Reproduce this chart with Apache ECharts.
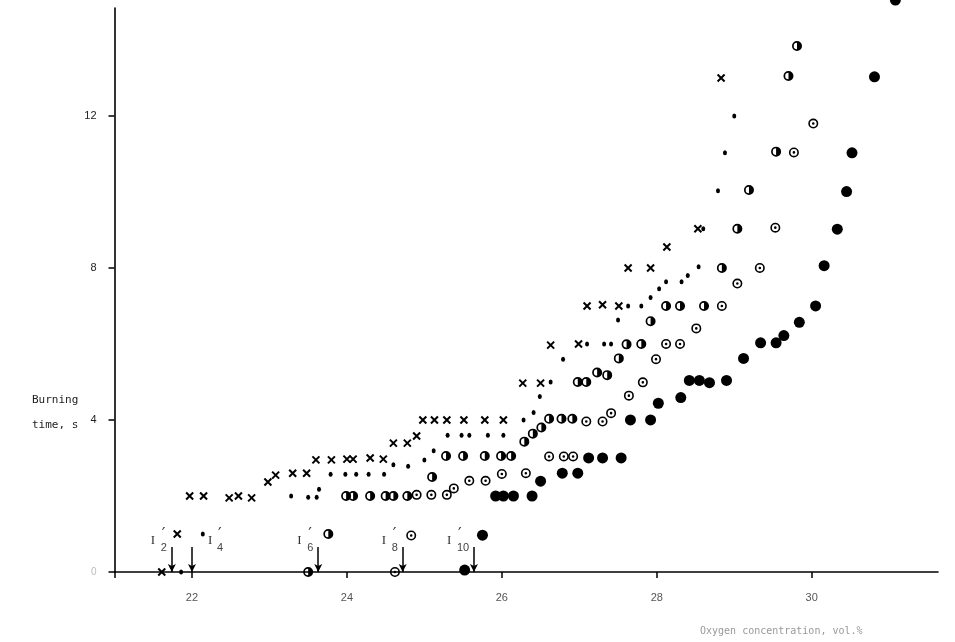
<!DOCTYPE html>
<html>
<head>
<meta charset="utf-8">
<script src="https://cdn.jsdelivr.net/npm/echarts@6/dist/echarts.min.js"></script>
<style>html,body{margin:0;padding:0;background:#fff}#c{width:955px;height:642px}</style>
</head>
<body>
<div id="c"></div>
<script>
// ---- data (oxygen concentration vol.%, burning time s) ----
const crosses = [[21.61,0],[21.81,1.0],[21.97,2.0],[22.15,2.0],[22.48,1.95],[22.6,2.0],[22.77,1.95],[22.98,2.37],[23.08,2.55],[23.3,2.6],[23.48,2.6],[23.6,2.95],[23.8,2.95],[24.0,2.97],[24.08,2.97],[24.3,3.0],[24.47,2.97],[24.6,3.39],[24.78,3.39],[24.9,3.58],[24.98,4.0],[25.13,4.0],[25.29,4.0],[25.51,4.0],[25.78,4.0],[26.02,4.0],[26.27,4.97],[26.5,4.97],[26.63,5.97],[26.99,6.0],[27.1,7.0],[27.3,7.03],[27.51,7.0],[27.63,8.0],[27.92,8.0],[28.13,8.55],[28.53,9.03],[28.83,13.0]];
const dots = [[21.86,0],[22.14,1.0],[23.28,2.0],[23.5,1.97],[23.61,1.97],[23.64,2.18],[23.79,2.57],[23.98,2.57],[24.12,2.57],[24.28,2.57],[24.48,2.57],[24.6,2.82],[24.79,2.78],[25.0,2.95],[25.12,3.19],[25.3,3.6],[25.48,3.6],[25.58,3.6],[25.82,3.6],[26.02,3.6],[26.28,4.0],[26.41,4.2],[26.49,4.62],[26.63,5.0],[26.79,5.6],[27.1,6.0],[27.32,6.0],[27.41,6.0],[27.5,6.63],[27.63,7.0],[27.8,7.0],[27.92,7.22],[28.03,7.45],[28.12,7.64],[28.32,7.64],[28.4,7.8],[28.54,8.03],[28.6,9.03],[28.79,10.03],[28.88,11.03],[29.0,12.0]];
const halfFilled = [[23.5,0],[23.76,1.0],[23.99,2.0],[24.08,2.0],[24.3,2.0],[24.5,2.0],[24.6,2.0],[24.78,2.0],[25.1,2.5],[25.28,3.05],[25.5,3.05],[25.78,3.05],[25.99,3.05],[26.12,3.05],[26.29,3.43],[26.4,3.64],[26.51,3.8],[26.61,4.03],[26.77,4.03],[26.91,4.03],[26.98,5.0],[27.09,5.0],[27.23,5.25],[27.36,5.18],[27.51,5.62],[27.61,5.99],[27.8,6.0],[27.92,6.6],[28.12,7.0],[28.3,7.0],[28.61,7.0],[28.84,8.0],[29.04,9.03],[29.19,10.05],[29.54,11.06],[29.7,13.05],[29.81,13.84]];
const dotted = [[24.62,0],[24.83,0.96],[24.9,2.03],[25.09,2.03],[25.29,2.03],[25.38,2.2],[25.58,2.4],[25.79,2.4],[26.0,2.58],[26.31,2.6],[26.61,3.04],[26.8,3.04],[26.92,3.04],[27.09,3.96],[27.3,3.96],[27.41,4.18],[27.64,4.64],[27.82,4.99],[27.99,5.6],[28.12,6.0],[28.3,6.0],[28.51,6.41],[28.84,7.0],[29.04,7.59],[29.33,8.0],[29.53,9.06],[29.77,11.04],[30.02,11.8]];
const filled = [[25.52,0.05],[25.75,0.97],[25.92,2.0],[26.02,2.0],[26.15,2.0],[26.39,2.0],[26.5,2.39],[26.78,2.6],[26.98,2.6],[27.12,3.0],[27.3,3.0],[27.54,3.0],[27.66,4.0],[27.92,4.0],[28.02,4.44],[28.31,4.59],[28.42,5.04],[28.55,5.04],[28.68,4.98],[28.9,5.04],[29.12,5.62],[29.34,6.03],[29.54,6.03],[29.64,6.22],[29.84,6.57],[30.05,7.0],[30.16,8.06],[30.33,9.02],[30.45,10.01],[30.52,11.03],[30.81,13.03],[31.08,15.05]];
// critical points I'n marked by arrows on the x axis
const annotX = [21.74, 22.0, 23.63, 24.72, 25.64];
const annotSub = ['2', '4', '6', '8', '10'];
const xTickLabels = [22, 24, 26, 28, 30];
const yTickLabels = [0, 4, 8, 12];

// ---- layout / style ----
const annotSide = [-1, 1, -1, -1, -1];
const crossPath = 'path://M0,0L10,10M10,0L0,10';
const halfPath = 'path://M50,0A50,50,0,1,1,50,100A50,50,0,1,1,50,0ZM50,17A33,33,0,0,0,50,83Z';
const dottedPath = 'path://M50,0A50,50,0,1,1,50,100A50,50,0,1,1,50,0ZM50,16A34,34,0,1,0,50,84A34,34,0,1,0,50,16ZM50,37A13,13,0,1,1,50,63A13,13,0,1,1,50,37Z';

const chart = echarts.init(document.getElementById('c'), null, {renderer: 'canvas'});
const base = {type: 'scatter', clip: false, silent: true, animation: false};
const option = {
  animation: false,
  backgroundColor: '#fff',
  grid: {left: 114.5, right: 17, top: 8, bottom: 70},
  xAxis: {
    type: 'value', min: 21, max: 31.63,
    axisLine: {onZero: false, lineStyle: {color: '#000', width: 1.6}},
    axisTick: {customValues: [21].concat(xTickLabels), length: 6, lineStyle: {color: '#000', width: 1.5}},
    axisLabel: {customValues: xTickLabels, margin: 20, color: '#555', fontSize: 11, fontFamily: 'Liberation Sans'},
    splitLine: {show: false}
  },
  yAxis: {
    type: 'value', min: 0, max: 14.84,
    axisLine: {onZero: false, lineStyle: {color: '#000', width: 1.6}},
    axisTick: {customValues: yTickLabels, length: 6, lineStyle: {color: '#000', width: 1.5}},
    axisLabel: {customValues: yTickLabels, margin: 18, color: '#222', fontSize: 11, fontFamily: 'Liberation Sans',
      formatter: v => v === 0 ? '{f|0}' : String(v), rich: {f: {color: '#bbb', fontSize: 10}}},
    splitLine: {show: false}
  },
  series: [
    Object.assign({}, base, {name: 'x', data: crosses, symbol: crossPath, symbolSize: 7,
      itemStyle: {color: '#000', borderColor: '#000', borderWidth: 2, opacity: 1}}),
    Object.assign({}, base, {name: 'dot', data: dots, symbol: 'circle', symbolSize: [4, 5],
      itemStyle: {color: '#000', opacity: 1}}),
    Object.assign({}, base, {name: 'half', data: halfFilled, symbol: halfPath, symbolSize: 10,
      itemStyle: {color: '#000', borderWidth: 0, opacity: 1}}),
    Object.assign({}, base, {name: 'dotted', data: dotted, symbol: dottedPath, symbolSize: 10,
      itemStyle: {color: '#000', borderWidth: 0, opacity: 1}}),
    Object.assign({}, base, {name: 'filled', data: filled, symbol: 'circle', symbolSize: 11,
      itemStyle: {color: '#000', opacity: 1},
      markLine: {
        silent: true, animation: false,
        symbol: ['none', 'arrow'], symbolSize: [6, 8],
        lineStyle: {color: '#000', width: 1.5, type: 'solid', opacity: 1},
        label: {show: false},
        data: annotX.map(x => [{coord: [x, 0.66]}, {coord: [x, 0]}])
      }})
  ],
  graphic: [
    {type: 'text', left: 32, top: 388, silent: true,
      style: {text: 'Burning\ntime, s', font: '11px "DejaVu Sans Mono"', fill: '#222', lineHeight: 25}},
    {type: 'text', left: 700, top: 626, silent: true,
      style: {text: 'Oxygen concentration, vol.%', font: '10px "DejaVu Sans Mono"', fill: '#999'}}
  ]
};
chart.setOption(option);

// annotation labels I'n placed through the chart's own coordinate conversion
const extra = [];
annotX.forEach((x, i) => {
  const p = chart.convertToPixel({gridIndex: 0}, [x, 0]);
  const px = p[0], py = p[1];
  const subW = annotSub[i].length * 6;
  let iX, subX;
  if (annotSide[i] < 0) {
    subX = px - 5 - subW;      // left edge of subscript
    iX = subX - 10;            // left edge of I
  } else {
    iX = px + 16;
    subX = iX + 9;
  }
  extra.push({type: 'text', x: iX, y: py - 31, silent: true,
    style: {text: 'I', font: '13px "Liberation Serif"', fill: '#333', textVerticalAlign: 'middle'}});
  extra.push({type: 'text', x: subX + 1, y: py - 37, silent: true,
    style: {text: '\u2032', font: '16px "DejaVu Sans"', fill: '#333', textVerticalAlign: 'middle'}});
  extra.push({type: 'text', x: subX, y: py - 24, silent: true,
    style: {text: annotSub[i], font: '11px "Liberation Sans"', fill: '#444', textVerticalAlign: 'middle'}});
});
chart.setOption({graphic: option.graphic.concat(extra)});
</script>
</body>
</html>
